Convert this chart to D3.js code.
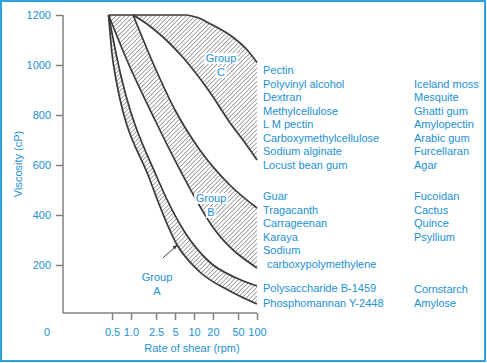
<!DOCTYPE html>
<html>
<head>
<meta charset="utf-8">
<script src="https://cdn.jsdelivr.net/npm/d3@7"></script>
<style>
  body { margin: 0; background: #fff; }
  svg { display: block; font-family: "Liberation Sans", Arial, sans-serif; }
</style>
</head>
<body>
<svg width="487" height="363"></svg>
<script>
// axis ticks
var rpmTicks = [0.5, 1, 2.5, 5, 10, 20, 50, 100]
var rpmTickLabels = ['0.5', '1.0', '2.5', '5', '10', '20', '50', '100']
var viscTicks = [200, 400, 600, 800, 1000, 1200]

// band edges, [rpm, viscosity in cP]
var groupAUpper = [[0.44, 1200], [0.62, 1010], [2.7, 540], [7.2, 330], [18, 210], [45, 150], [100, 116]]
var groupALower = [[0.44, 1200], [0.52, 1010], [2.0, 540], [5.4, 280], [12.4, 172], [37, 96], [100, 44]]
var groupBUpper = [[1.08, 1200], [2.4, 990], [5, 820], [12.4, 660], [37, 520], [100, 428]]
var groupBLower = [[0.44, 1200], [0.86, 1020], [2.4, 780], [6, 580], [21.5, 340], [100, 188]]
var groupCUpper = [[7.7, 1200], [12, 1188], [18, 1165], [42, 1110], [70, 1060], [100, 1010]]
var groupCLower = [[1.08, 1200], [2, 1155], [6.7, 1030], [18, 890], [37, 770], [64, 690], [100, 620]]

// substances listed next to each group
var groupCNames = ['Pectin', 'Polyvinyl alcohol', 'Dextran', 'Methylcellulose', 'L M pectin', 'Carboxymethylcellulose', 'Sodium alginate', 'Locust bean gum']
var groupCNames2 = ['Iceland moss', 'Mesquite', 'Ghatti gum', 'Amylopectin', 'Arabic gum', 'Furcellaran', 'Agar']
var groupBNames = ['Guar', 'Tragacanth', 'Carrageenan', 'Karaya', 'Sodium']
var groupBNamesCont = ['carboxypolymethylene']
var groupBNames2 = ['Fucoidan', 'Cactus', 'Quince', 'Psyllium']
var groupANames = ['Polysaccharide B-1459', 'Phosphomannan Y-2448']
var groupANames2 = ['Cornstarch', 'Amylose']

var blue = '#2290d4'
var ink = '#3a3a3a'
var axisGrey = '#808080'

var svg = d3.select('svg')

var x = d3.scaleLog().domain([1, 100]).range([131, 257])
var y = d3.scaleLinear().domain([0, 1200]).range([315, 15])

// frame
svg.append('rect')
   .attr('x', 1).attr('y', 1).attr('width', 484).attr('height', 360)
   .attr('fill', 'none').attr('stroke', '#2ea2dc').attr('stroke-width', 2)

// hatch pattern
svg.append('defs').append('pattern')
   .attr('id', 'hatch')
   .attr('patternUnits', 'userSpaceOnUse')
   .attr('width', 3.1).attr('height', 3.1)
   .attr('patternTransform', 'rotate(45)')
   .append('line')
   .attr('x1', 0).attr('y1', 0).attr('x2', 0).attr('y2', 3.1)
   .attr('stroke', ink).attr('stroke-width', 0.9)

var line = d3.line()
    .x(function(d) { return x(d[0]) })
    .y(function(d) { return y(d[1]) })
    .curve(d3.curveMonotoneX)

var bands = [
  [groupALower, groupAUpper],
  [groupBLower, groupBUpper],
  [groupCLower, groupCUpper]
]

// band fills: lower edge out, upper edge back
bands.forEach(function(b) {
  var back = line(b[1].slice().reverse()).slice(1)
  svg.append('path')
     .attr('d', line(b[0]) + 'L' + back + 'Z')
     .attr('fill', 'url(#hatch)')
     .attr('stroke', 'none')
})

// band edges
bands.forEach(function(b) {
  b.forEach(function(edge) {
    svg.append('path')
       .attr('d', line(edge))
       .attr('fill', 'none')
       .attr('stroke', ink)
       .attr('stroke-width', 1.7)
  })
})
svg.append('line')
   .attr('x1', x(groupALower[0][0])).attr('x2', x(groupCUpper[0][0]))
   .attr('y1', y(1200)).attr('y2', y(1200))
   .attr('stroke', ink).attr('stroke-width', 1.7)

// axes
var yAxis = d3.axisLeft(y).tickValues(viscTicks).tickSize(7).tickPadding(5)
    .tickFormat(d3.format('d'))
var gy = svg.append('g').attr('transform', 'translate(63,0)').call(yAxis)
gy.select('.domain').remove()
gy.append('line').attr('x1', 0).attr('x2', 0).attr('y1', y(1200)).attr('y2', 313)
  .attr('stroke', axisGrey).attr('stroke-width', 1.5)

var xAxis = d3.axisBottom(x).tickValues(rpmTicks)
    .tickFormat(function(d, i) { return rpmTickLabels[i] })
    .tickSize(7).tickPadding(8)
var gx = svg.append('g').attr('transform', 'translate(0,313)').call(xAxis)
gx.select('.domain').remove()
gx.append('line').attr('x1', 63).attr('x2', x(100)).attr('y1', 0).attr('y2', 0)
  .attr('stroke', axisGrey).attr('stroke-width', 1.5)

svg.selectAll('.tick line').attr('stroke', axisGrey).attr('stroke-width', 1.5)
svg.selectAll('.tick text').attr('fill', blue).style('font-size', '11px')
   .style('font-family', '"Liberation Sans", Arial, sans-serif')

svg.append('text').attr('x', 47).attr('y', 336).attr('text-anchor', 'middle')
   .attr('fill', blue).style('font-size', '11px').text('0')

svg.append('text').attr('x', 192).attr('y', 352).attr('text-anchor', 'middle')
   .attr('fill', blue).style('font-size', '11px').text('Rate of shear (rpm)')

svg.append('text').attr('transform', 'translate(22,164) rotate(-90)')
   .attr('text-anchor', 'middle')
   .attr('fill', blue).style('font-size', '11px').text('Viscosity (cP)')

// group labels with white backing
function groupLabel(rpm, visc, letter) {
  var g = svg.append('g')
  var cx = x(rpm), cy = y(visc)
  ;['Group', letter].forEach(function(t, i) {
    var txt = g.append('text').attr('x', cx).attr('y', cy + i * 14)
       .attr('text-anchor', 'middle').attr('fill', blue)
       .style('font-size', '11px').text(t)
    var bb = txt.node().getBBox()
    g.insert('rect', 'text')
     .attr('x', bb.x - 1.5).attr('y', bb.y + 1)
     .attr('width', bb.width + 3).attr('height', bb.height - 1)
     .attr('fill', '#fff')
  })
}
groupLabel(x.invert(221), y.invert(62), 'C')
groupLabel(x.invert(211), y.invert(202), 'B')
groupLabel(x.invert(157), y.invert(281), 'A')

// arrow to group A
svg.append('defs').append('marker')
   .attr('id', 'arr').attr('viewBox', '0 0 10 10')
   .attr('refX', 9).attr('refY', 5)
   .attr('markerWidth', 5).attr('markerHeight', 5)
   .attr('orient', 'auto')
   .append('path').attr('d', 'M0,1L10,5L0,9Z').attr('fill', ink)
svg.append('line')
   .attr('x1', x(3.2)).attr('y1', y(228))
   .attr('x2', x(5.4)).attr('y2', y(280))
   .attr('stroke', ink).attr('stroke-width', 1)
   .attr('marker-end', 'url(#arr)')

// name lists
function names(list, x0, y0, step) {
  svg.selectAll(null).data(list).enter().append('text')
     .attr('x', x0)
     .attr('y', function(d, i) { return y0 + i * step })
     .attr('fill', blue).style('font-size', '11px')
     .text(function(d) { return d })
}
names(groupCNames, 263, 74, 13.5)
names(groupCNames2, 414, 87.5, 13.5)
names(groupBNames, 263, 200, 13.5)
names(groupBNamesCont, 267, 267.5, 13.5)
names(groupBNames2, 414, 200, 13.5)
names(groupANames, 263, 291.5, 15.5)
names(groupANames2, 414, 292.5, 14)
</script>
</body>
</html>
